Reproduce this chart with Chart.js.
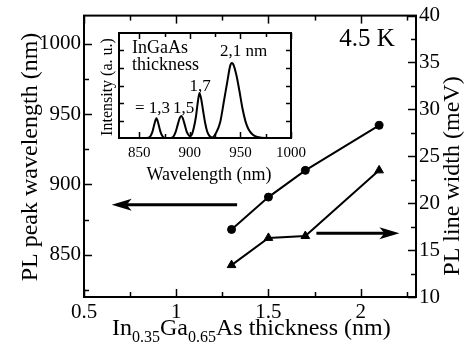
<!DOCTYPE html>
<html>
<head>
<meta charset="utf-8">
<script src="https://cdn.jsdelivr.net/npm/chart.js@4"></script>
<style>
  body { margin: 0; background: #fff; }
  #wrap { position: relative; width: 467px; height: 347px; }
  #main { position: absolute; left: 0; top: 0; }
  #inset { position: absolute; left: 96px; top: 28px; }
</style>
</head>
<body>
<div id="wrap">
  <canvas id="main" width="467" height="347"></canvas>
  <canvas id="inset" width="216" height="162"></canvas>
</div>
<script>
// main plot data
var thickness = [1.3, 1.5, 1.7, 2.1];
var peakWl = [868, 891, 910, 942];
var lineWidth = [13.4, 16.3, 16.5, 23.5];

var xTicks = [0.5, 0.75, 1, 1.25, 1.5, 1.75, 2, 2.25];
var wlTicks = [825, 850, 875, 900, 925, 950, 975, 1000];
var lwTicks = [10, 12.5, 15, 17.5, 20, 22.5, 25, 27.5, 30, 32.5, 35, 37.5, 40];

// inset spectra
var specWl = [830, 857, 859, 861, 863, 865, 867, 869, 871, 873, 876, 881, 884, 886, 888, 890, 891.5, 893, 895, 897,
              899, 900, 902, 904, 906, 908, 909.5, 911, 913, 915, 917, 919, 922, 926, 930, 934, 937, 940, 941.5, 943,
              946, 949, 952, 955, 958, 962, 967, 975, 1000];
var specInt = [0, 0, 0.01, 0.1, 0.35, 0.8, 1.13, 0.8, 0.35, 0.1, 0, 0, 0.1, 0.35, 0.75, 1.14, 1.26, 1.14, 0.75, 0.35,
               0.15, 0.12, 0.2, 0.6, 1.2, 2.1, 2.56, 2.3, 1.6, 0.9, 0.4, 0.15, 0.03, 0.3, 0.9, 2.2, 3.2, 4.15, 4.28, 4.2,
               3.6, 2.7, 1.7, 0.95, 0.5, 0.2, 0.06, 0, 0];
var insetXTicks = [850, 875, 900, 925, 950, 975, 1000];
var insetYTicks = [1, 2, 3, 4, 5];
var peakLabels = ["= 1,3", "1,5", "1,7", "2,1 nm"];

var serif = "'Liberation Serif', 'Times New Roman', serif";

function isMult(v, m) {
    return Math.abs(v / m - Math.round(v / m)) < 1e-6;
}

function setTicks(list) {
    return function(scale) {
        scale.ticks = list.map(function(v) { return {value: v}; });
    };
}

// frame plus inward pointing tick marks
function frameTicks(axes, frameW) {
    return {
        id: 'frameTicks',
        afterDatasetsDraw: function(chart) {
            var ctx = chart.ctx, a = chart.chartArea;
            ctx.save();
            ctx.strokeStyle = '#000';
            ctx.lineWidth = 1.5;
            axes.forEach(function(ax) {
                var s = chart.scales[ax.id];
                s.ticks.forEach(function(t) {
                    var len = isMult(t.value, ax.major) ? ax.majorLen : ax.minorLen;
                    var p = Math.round(s.getPixelForValue(t.value)) + 0.5;
                    ax.sides.forEach(function(side) {
                        ctx.beginPath();
                        if (side == 'bottom') { ctx.moveTo(p, a.bottom); ctx.lineTo(p, a.bottom - len); }
                        if (side == 'top') { ctx.moveTo(p, a.top); ctx.lineTo(p, a.top + len); }
                        if (side == 'left') { ctx.moveTo(a.left, p); ctx.lineTo(a.left + len, p); }
                        if (side == 'right') { ctx.moveTo(a.right, p); ctx.lineTo(a.right - len, p); }
                        ctx.stroke();
                    });
                });
            });
            ctx.lineWidth = frameW;
            ctx.strokeRect(a.left, a.top, a.right - a.left, a.bottom - a.top);
            ctx.restore();
        }
    };
}

function arrow(ctx, x1, x2, y) {
    var dir = x2 > x1 ? 1 : -1, L = 20, W = 6;
    ctx.beginPath();
    ctx.lineWidth = 3;
    ctx.moveTo(x1, y);
    ctx.lineTo(x2 - dir * 10, y);
    ctx.stroke();
    ctx.beginPath();
    ctx.moveTo(x2, y);
    ctx.lineTo(x2 - dir * L, y - W);
    ctx.lineTo(x2 - dir * L * 0.75, y);
    ctx.lineTo(x2 - dir * L, y + W);
    ctx.closePath();
    ctx.fill();
}

var mainText = {
    id: 'mainText',
    afterDraw: function(chart) {
        var ctx = chart.ctx, sx = chart.scales.x, sy = chart.scales.y, sy2 = chart.scales.y2;
        ctx.save();
        ctx.fillStyle = '#000';
        ctx.strokeStyle = '#000';
        ctx.textBaseline = 'middle';
        ctx.textAlign = 'center';

        ctx.font = '24px ' + serif;
        ctx.save();
        ctx.translate(31, 157);
        ctx.rotate(-Math.PI / 2);
        ctx.fillText('PL peak wavelength (nm)', 0, 0);
        ctx.restore();

        ctx.save();
        ctx.translate(453, 176);
        ctx.rotate(-Math.PI / 2);
        ctx.fillText('PL line width (meV)', 0, 0);
        ctx.restore();

        ctx.font = '25px ' + serif;
        ctx.fillText('4.5 K', 367, 39);

        // x title with subscripts
        ctx.textAlign = 'left';
        ctx.textBaseline = 'alphabetic';
        var parts = [['In', 0], ['0.35', 1], ['Ga', 0], ['0.65', 1], ['As thickness (nm)', 0]];
        var x = 112;
        parts.forEach(function(p) {
            ctx.font = (p[1] ? '16px ' : '24px ') + serif;
            ctx.fillText(p[0], x, p[1] ? 342 : 335);
            x += ctx.measureText(p[0]).width;
        });

        // arrows pointing to each axis
        arrow(ctx, sx.getPixelForValue(1.33), sx.getPixelForValue(0.65), sy.getPixelForValue(885.5));
        arrow(ctx, sx.getPixelForValue(1.76), sx.getPixelForValue(2.21), sy2.getPixelForValue(16.8));
        ctx.restore();
    }
};

var tickFont = {family: serif, size: 21};

new Chart(document.getElementById('main'), {
    type: 'line',
    data: {
        datasets: [
            {
                data: thickness.map(function(x, i) { return {x: x, y: peakWl[i]}; }),
                yAxisID: 'y',
                borderColor: '#000',
                borderWidth: 2,
                pointStyle: 'circle',
                pointRadius: 4,
                pointBorderWidth: 1,
                pointBackgroundColor: '#000',
                pointBorderColor: '#000'
            },
            {
                data: thickness.map(function(x, i) { return {x: x, y: lineWidth[i]}; }),
                yAxisID: 'y2',
                borderColor: '#000',
                borderWidth: 2,
                pointStyle: 'triangle',
                pointRadius: 5,
                pointBorderWidth: 1,
                pointBackgroundColor: '#000',
                pointBorderColor: '#000'
            }
        ]
    },
    options: {
        responsive: false,
        animation: false,
        events: [],
        layout: {padding: {top: 15, left: 0, right: 0, bottom: 0}, autoPadding: false},
        plugins: {legend: {display: false}, tooltip: {enabled: false}},
        scales: {
            x: {
                type: 'linear', position: 'bottom', min: 0.5, max: 2.3,
                grid: {display: false, drawTicks: false}, border: {display: false},
                afterBuildTicks: setTicks(xTicks),
                afterFit: function(s) { s.height = 50; },
                ticks: {
                    font: tickFont, color: '#000', padding: 3, maxRotation: 0, autoSkip: false,
                    callback: function(v) { return isMult(v, 0.5) ? String(v) : ''; }
                }
            },
            y: {
                type: 'linear', position: 'left', min: 820, max: 1020,
                grid: {display: false, drawTicks: false}, border: {display: false},
                afterBuildTicks: setTicks(wlTicks),
                afterFit: function(s) { s.width = 84; },
                ticks: {
                    font: tickFont, color: '#000', padding: 3, autoSkip: false,
                    callback: function(v) { return isMult(v, 50) ? String(v) : ''; }
                }
            },
            y2: {
                type: 'linear', position: 'right', min: 10, max: 40,
                grid: {display: false, drawTicks: false}, border: {display: false},
                afterBuildTicks: setTicks(lwTicks),
                afterFit: function(s) { s.width = 51; },
                ticks: {
                    font: tickFont, color: '#000', padding: 3, autoSkip: false,
                    callback: function(v) { return isMult(v, 5) ? String(v) : ''; }
                }
            }
        }
    },
    plugins: [frameTicks([
        {id: 'x', sides: ['bottom', 'top'], major: 0.5, majorLen: 8, minorLen: 5},
        {id: 'y', sides: ['left'], major: 50, majorLen: 8, minorLen: 5},
        {id: 'y2', sides: ['right'], major: 5, majorLen: 8, minorLen: 5}
    ], 2), mainText]
});

var insetText = {
    id: 'insetText',
    afterDraw: function(chart) {
        var ctx = chart.ctx;
        ctx.save();
        ctx.fillStyle = '#000';
        ctx.textBaseline = 'middle';
        ctx.textAlign = 'left';
        ctx.font = '18px ' + serif;
        ctx.fillText('InGaAs', 36, 20);
        ctx.fillText('thickness', 36, 37);
        ctx.font = '17px ' + serif;
        ctx.fillText(peakLabels[0], 39, 81);
        ctx.fillText(peakLabels[1], 77, 81);
        ctx.textAlign = 'center';
        ctx.fillText(peakLabels[2], 104, 59);
        ctx.textAlign = 'left';
        ctx.fillText(peakLabels[3], 124, 24);
        ctx.textAlign = 'center';
        ctx.font = '18px ' + serif;
        ctx.fillText('Wavelength (nm)', 113, 147);
        ctx.font = '16px ' + serif;
        ctx.translate(12, 59);
        ctx.rotate(-Math.PI / 2);
        ctx.fillText('Intensity (a. u.)', 0, 0);
        ctx.restore();
    }
};

new Chart(document.getElementById('inset'), {
    type: 'line',
    data: {
        datasets: [{
            data: specWl.map(function(x, i) { return {x: x, y: specInt[i]}; }),
            borderColor: '#000',
            borderWidth: 2,
            pointRadius: 0,
            cubicInterpolationMode: 'monotone'
        }]
    },
    options: {
        responsive: false,
        animation: false,
        events: [],
        layout: {padding: {top: 5, left: 0, right: 17, bottom: 0}, autoPadding: false},
        plugins: {legend: {display: false}, tooltip: {enabled: false}},
        scales: {
            x: {
                type: 'linear', min: 830, max: 1000,
                grid: {display: false, drawTicks: false}, border: {display: false},
                afterBuildTicks: setTicks(insetXTicks),
                afterFit: function(s) { s.height = 52; },
                ticks: {
                    font: {family: serif, size: 15}, color: '#000', padding: 6, maxRotation: 0, autoSkip: false,
                    callback: function(v) { return isMult(v, 50) ? String(v) : ''; }
                }
            },
            y: {
                type: 'linear', min: 0, max: 6,
                grid: {display: false, drawTicks: false}, border: {display: false},
                afterBuildTicks: setTicks(insetYTicks),
                afterFit: function(s) { s.width = 23; },
                ticks: {display: false}
            }
        }
    },
    plugins: [frameTicks([
        {id: 'x', sides: ['bottom', 'top'], major: 50, majorLen: 6, minorLen: 4},
        {id: 'y', sides: ['left', 'right'], major: 1, majorLen: 5, minorLen: 5}
    ], 2), insetText]
});
</script>
</body>
</html>
